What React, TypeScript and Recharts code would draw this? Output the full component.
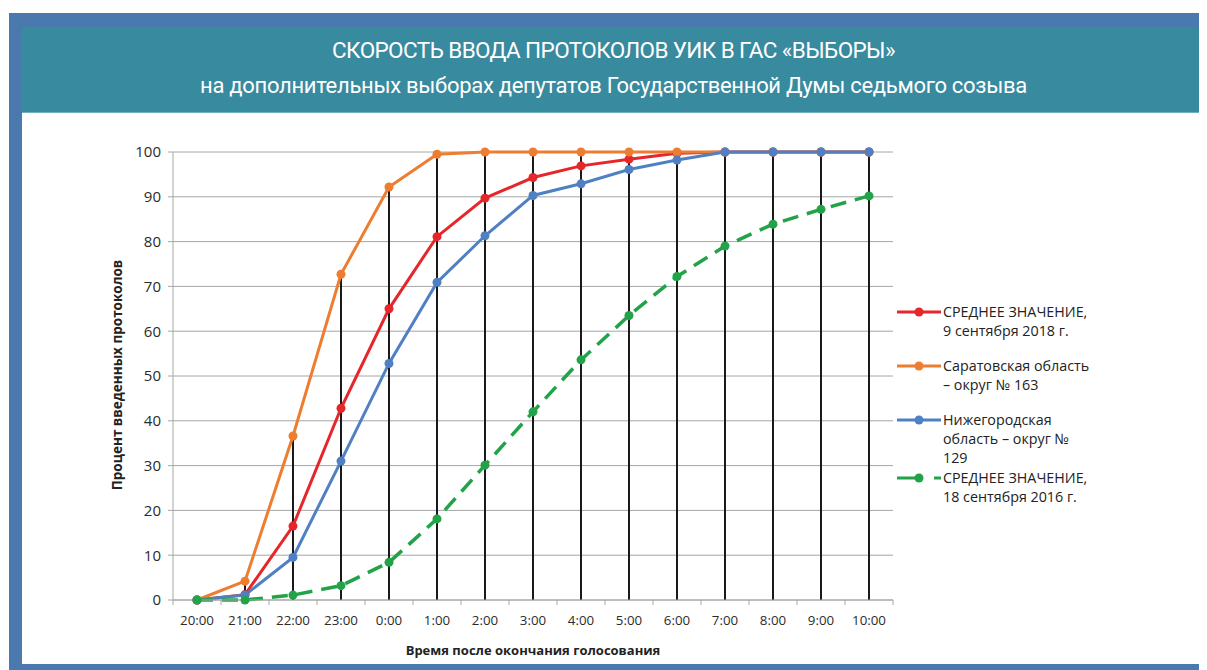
import { ComposedChart, Line, Bar, XAxis, YAxis, CartesianGrid } from 'recharts';

const hours = ['20:00', '21:00', '22:00', '23:00', '0:00', '1:00', '2:00', '3:00', '4:00', '5:00', '6:00', '7:00', '8:00', '9:00', '10:00'];
const avg2018 = [0, 1.2, 16.5, 42.8, 65, 81.1, 89.7, 94.3, 96.9, 98.4, 99.7, 100, 100, 100, 100];
const saratov = [0, 4.2, 36.6, 72.7, 92.2, 99.5, 100, 100, 100, 100, 100, 100, 100, 100, 100];
const nizhny = [0, 1.1, 9.5, 31, 52.8, 70.9, 81.3, 90.3, 92.9, 96.1, 98.2, 100, 100, 100, 100];
const avg2016 = [0, 0, 1.1, 3.2, 8.4, 18.1, 30.1, 42, 53.6, 63.5, 72.2, 79, 83.9, 87.2, 90.2];
const yTicks = [0, 10, 20, 30, 40, 50, 60, 70, 80, 90, 100];

const series = [
  { key: 'avg2018', color: '#e5262a', dashed: false, lines: ['СРЕДНЕЕ ЗНАЧЕНИЕ,', '9 сентября 2018 г.'] },
  { key: 'saratov', color: '#ed7d31', dashed: false, lines: ['Саратовская область', '– округ № 163'] },
  { key: 'nizhny', color: '#4f80c4', dashed: false, lines: ['Нижегородская', 'область – округ №', '129'] },
  { key: 'avg2016', color: '#22a349', dashed: true, lines: ['СРЕДНЕЕ ЗНАЧЕНИЕ,', '18 сентября 2016 г.'] },
];

const data = hours.map((h, i) => ({
  hour: h,
  avg2018: avg2018[i],
  saratov: saratov[i],
  nizhny: nizhny[i],
  avg2016: avg2016[i],
  drop: Math.max(avg2018[i], saratov[i], nizhny[i], avg2016[i]),
}));

const FONT = '"Open Sans", "Noto Sans", sans-serif';
const BAND = 48;

function HourTick(props: any) {
  const { x, y, index } = props;
  const last = index === hours.length - 1;
  return (
    <g>
      <line x1={x - BAND / 2} y1={y} x2={x - BAND / 2} y2={y + 5} stroke="#a6a6a6" />
      {last && <line x1={x + BAND / 2} y1={y} x2={x + BAND / 2} y2={y + 5} stroke="#a6a6a6" />}
      <text x={x} y={y + 25} textAnchor="middle" fontSize={13.3} fill="#2b2b2b" fontFamily={FONT}>
        {props.payload.value}
      </text>
    </g>
  );
}

function LegendBox() {
  return (
    <div style={{ fontFamily: FONT, fontSize: 14.3, color: '#222', lineHeight: '19px' }}>
      {series.map((s, idx) => (
        <div key={s.key} style={{ position: 'relative', height: idx === 2 ? 58 : 54 }}>
          <svg width={46} height={20} style={{ position: 'absolute', left: 0, top: 0 }}>
            {s.dashed ? (
              <>
                <line x1={0} y1={10} x2={22} y2={10} stroke={s.color} strokeWidth={3} />
                <line x1={37} y1={10} x2={44} y2={10} stroke={s.color} strokeWidth={3} />
              </>
            ) : (
              <line x1={0} y1={10} x2={44} y2={10} stroke={s.color} strokeWidth={3} />
            )}
            <circle cx={22} cy={10} r={4.5} fill={s.color} />
          </svg>
          <div style={{ position: 'absolute', left: 46, top: 0, whiteSpace: 'nowrap' }}>
            {s.lines.map((t, i) => <div key={i}>{t}</div>)}
          </div>
        </div>
      ))}
    </div>
  );
}

export default function App() {
  return (
    <div style={{ position: 'relative', width: 1199, height: 662 }}>
      {/* frame */}
      <div style={{ position: 'absolute', left: 1, top: 5, width: 1198, height: 657, background: '#4a79ae' }} />
      <div style={{ position: 'absolute', left: 14, top: 19, width: 1183, height: 85, background: '#388a9f', borderBottom: '1px solid #6fb0c0' }} />
      <div style={{ position: 'absolute', left: 14, top: 105, width: 1183, height: 551, background: '#fff' }} />

      {/* title */}
      <div style={{ position: 'absolute', left: 14, top: 27, width: 1183, textAlign: 'center', color: '#fff', fontFamily: 'Roboto, sans-serif' }}>
        <div style={{ fontSize: 22.5, lineHeight: '30px', letterSpacing: -0.6 }}>СКОРОСТЬ ВВОДА ПРОТОКОЛОВ УИК В ГАС «ВЫБОРЫ»</div>
        <div style={{ fontSize: 22, lineHeight: '30px', marginTop: 6, letterSpacing: -0.3 }}>
          на дополнительных выборах депутатов Государственной Думы седьмого созыва
        </div>
      </div>

      {/* chart */}
      <div style={{ position: 'absolute', left: 14, top: 105 }}>
        <ComposedChart width={1183} height={551} data={data} margin={{ top: 39, right: 312, bottom: 34, left: 91 }}>
          <CartesianGrid vertical={false} stroke="#a6a6a6" />
          <XAxis
            dataKey="hour"
            axisLine={{ stroke: '#a6a6a6' }}
            tickLine={false}
            tickSize={0}
            tickMargin={0}
            height={30}
            interval={0}
            tick={<HourTick />}
          />
          <YAxis
            domain={[0, 100]}
            ticks={yTicks}
            width={60}
            axisLine={{ stroke: '#a6a6a6' }}
            tickLine={{ stroke: '#a6a6a6' }}
            tickSize={5}
            tickMargin={7}
            tick={{ fontSize: 15, fill: '#2b2b2b', fontFamily: FONT }}
          />
          <Bar dataKey="drop" barSize={2} fill="#1a1a1a" isAnimationActive={false} />
          {series.map(s => (
            <Line
              key={s.key}
              dataKey={s.key}
              stroke={s.color}
              strokeWidth={s.dashed ? 3.5 : 3}
              strokeDasharray={s.dashed ? '16 9' : undefined}
              dot={{ r: 4.5, fill: s.color, stroke: s.color, strokeWidth: 0 }}
              activeDot={false}
              isAnimationActive={false}
            />
          ))}
        </ComposedChart>
      </div>

      {/* legend */}
      <div style={{ position: 'absolute', left: 889, top: 294 }}>
        <LegendBox />
      </div>

      {/* axis titles */}
      <div style={{ position: 'absolute', left: 109 - 150, top: 367 - 10, width: 300, height: 20, textAlign: 'center', transform: 'rotate(-90deg)', fontFamily: FONT, fontWeight: 700, fontSize: 13.5, color: '#222', lineHeight: '20px' }}>
        Процент введенных протоколов
      </div>
      <div style={{ position: 'absolute', left: 525 - 200, top: 633, width: 400, textAlign: 'center', fontFamily: FONT, fontWeight: 700, fontSize: 13, color: '#222' }}>
        Время после окончания голосования
      </div>
    </div>
  );
}
